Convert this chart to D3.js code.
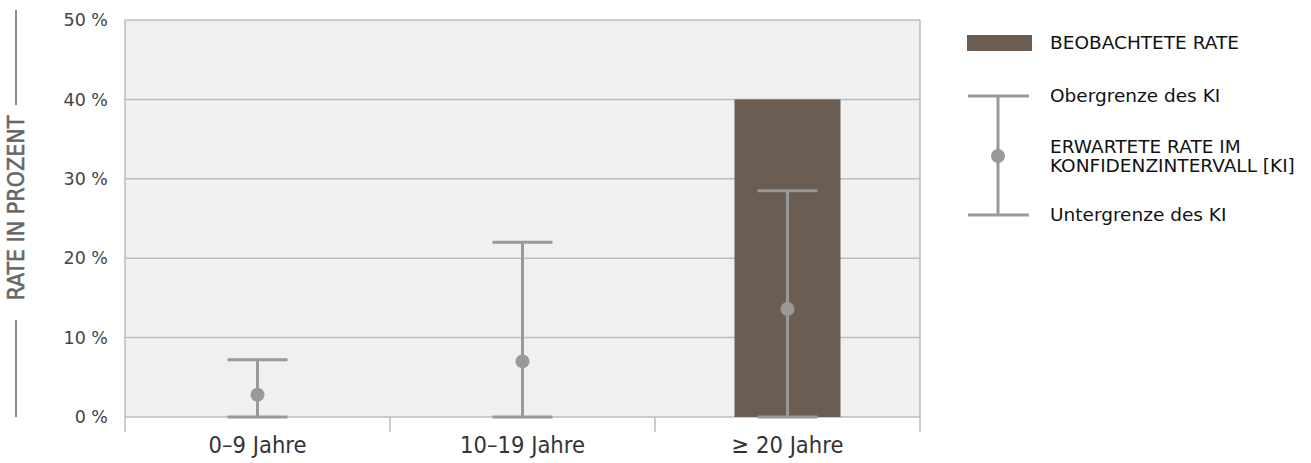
<!DOCTYPE html>
<html><head><meta charset="utf-8">
<script src="https://cdn.jsdelivr.net/npm/d3@7"></script>
<style>body{margin:0;background:#fff}svg{display:block}</style>
</head><body>
<svg id="c" width="1311" height="463"></svg>
<script>
const categories = ["0\u20139 Jahre", "10\u201319 Jahre", "\u2265 20 Jahre"];
const observed = [null, null, 40];
const expected = [2.8, 7.0, 13.6];
const ciUpper = [7.2, 22.0, 28.5];
const ciLower = [0, 0, 0];
const yTicks = [0, 10, 20, 30, 40, 50];
const legendLabels = ["BEOBACHTETE RATE", "Obergrenze des KI", ["ERWARTETE RATE IM", "KONFIDENZINTERVALL [KI]"], "Untergrenze des KI"];
const yTitle = "RATE IN PROZENT";

const svg = d3.select("#c");
const L = 125, R = 920, T = 20, B = 417;
const x = d3.scaleBand().domain(categories).range([L, R]).paddingInner(0).paddingOuter(0);
const y = d3.scaleLinear().domain([0, 50]).range([B, T]);
const gridC = "#bdbdbd", ebC = "#999999", barC = "#6b5d52";

svg.append("rect").attr("x", L).attr("y", T).attr("width", R - L).attr("height", B - T).attr("fill", "#f0f0f0");
svg.append("g").selectAll("line").data(yTicks).join("line")
  .attr("x1", L).attr("x2", R).attr("y1", d => y(d)).attr("y2", d => y(d))
  .attr("stroke", gridC).attr("stroke-width", 1.5);
svg.append("line").attr("x1", L).attr("x2", L).attr("y1", T).attr("y2", B).attr("stroke", gridC).attr("stroke-width", 1.5);
svg.append("line").attr("x1", R).attr("x2", R).attr("y1", T).attr("y2", B).attr("stroke", gridC).attr("stroke-width", 1.5);

const yAxis = d3.axisLeft(y).tickValues(yTicks).tickFormat(d => d + " %").tickSize(0).tickPadding(17);
const ya = svg.append("g").attr("transform", `translate(${L},0)`).call(yAxis);
ya.select(".domain").remove();
ya.selectAll("text").attr("font-family", "DejaVu Sans").attr("font-size", 17.5).attr("fill", "#444");

const xAxis = d3.axisBottom(x).tickSize(0).tickPadding(19);
const xa = svg.append("g").attr("transform", `translate(0,${B})`).call(xAxis);
xa.select(".domain").remove();
xa.selectAll("text").attr("font-family", "DejaVu Sans Condensed").attr("font-size", 23.5).attr("fill", "#333");
const bounds = categories.map(c => x(c)).concat([R]);
svg.append("g").selectAll("line").data(bounds).join("line")
  .attr("x1", d => d).attr("x2", d => d).attr("y1", B).attr("y2", B + 15)
  .attr("stroke", gridC).attr("stroke-width", 1.5);

const bw = x.bandwidth() * 0.4;
svg.append("g").selectAll("rect").data(categories.map((c, i) => ({c, v: observed[i]})).filter(d => d.v != null)).join("rect")
  .attr("x", d => x(d.c) + (x.bandwidth() - bw) / 2).attr("width", bw)
  .attr("y", d => y(d.v)).attr("height", d => y(0) - y(d.v)).attr("fill", barC);

const capW = 60;
const eb = svg.append("g").selectAll("g").data(categories.map((c, i) => ({c, e: expected[i], u: ciUpper[i], l: ciLower[i]}))).join("g")
  .attr("transform", d => `translate(${x(d.c) + x.bandwidth() / 2},0)`);
eb.append("line").attr("x1", 0).attr("x2", 0).attr("y1", d => y(d.u)).attr("y2", d => y(d.l)).attr("stroke", ebC).attr("stroke-width", 3);
eb.append("line").attr("x1", -capW/2).attr("x2", capW/2).attr("y1", d => y(d.u)).attr("y2", d => y(d.u)).attr("stroke", ebC).attr("stroke-width", 3);
eb.append("line").attr("x1", -capW/2).attr("x2", capW/2).attr("y1", d => y(d.l)).attr("y2", d => y(d.l)).attr("stroke", ebC).attr("stroke-width", 3);
eb.append("circle").attr("cx", 0).attr("cy", d => y(d.e)).attr("r", 7).attr("fill", ebC);

const tg = svg.append("g").attr("transform", "translate(16,208) rotate(-90)");
tg.append("text").attr("text-anchor", "middle").attr("dy", "0.35em").attr("font-family", "DejaVu Sans Condensed")
  .attr("font-size", 23).attr("fill", "#666").attr("stroke", "#666").attr("stroke-width", 0.5).text(yTitle);
svg.append("line").attr("x1", 16).attr("x2", 16).attr("y1", 10).attr("y2", 105).attr("stroke", "#666").attr("stroke-width", 1.5);
svg.append("line").attr("x1", 16).attr("x2", 16).attr("y1", 320).attr("y2", 417).attr("stroke", "#666").attr("stroke-width", 1.5);

const lg = svg.append("g");
lg.append("rect").attr("x", 967).attr("y", 35).attr("width", 65).attr("height", 16).attr("fill", barC);
lg.append("line").attr("x1", 998).attr("x2", 998).attr("y1", 96).attr("y2", 215).attr("stroke", ebC).attr("stroke-width", 3);
lg.append("line").attr("x1", 968).attr("x2", 1029).attr("y1", 96).attr("y2", 96).attr("stroke", ebC).attr("stroke-width", 3);
lg.append("line").attr("x1", 968).attr("x2", 1029).attr("y1", 215).attr("y2", 215).attr("stroke", ebC).attr("stroke-width", 3);
lg.append("circle").attr("cx", 998).attr("cy", 156).attr("r", 7).attr("fill", ebC);
const ltxt = (t, yy) => lg.append("text").attr("x", 1050).attr("y", yy).attr("dy", "0.35em")
  .attr("font-family", "DejaVu Sans").attr("font-size", 18.5).attr("fill", "#111").text(t);
ltxt(legendLabels[0], 43);
ltxt(legendLabels[1], 96);
ltxt(legendLabels[2][0], 147);
ltxt(legendLabels[2][1], 166);
ltxt(legendLabels[3], 215);
</script>
</body></html>
